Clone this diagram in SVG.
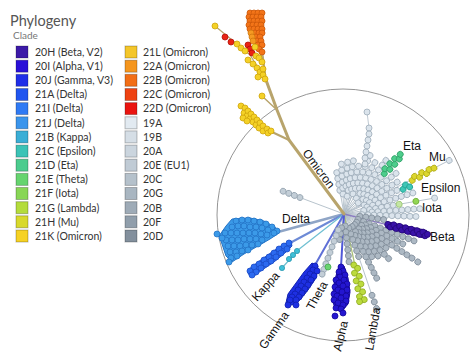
<svg xmlns="http://www.w3.org/2000/svg" width="474" height="361" viewBox="0 0 474 361">
<style>
.ttl{font-family:Lato,"Open Sans",sans-serif;font-size:14.5px;fill:#555}
.sub{font-family:Lato,"Open Sans",sans-serif;font-size:10px;fill:#777}
.lg{font-family:Lato,"Open Sans",sans-serif;font-size:10.5px;fill:#333}
.sw{stroke:#000;stroke-opacity:.25;stroke-width:1}
.lab{font-family:"Liberation Sans",Arial,sans-serif;font-size:12px;fill:#111}
circle{stroke-width:.8}
.gl{stroke:#aebbc6;stroke-width:.8;fill:none}
.lt{fill:#dbe4ec;stroke:#9dacb9}
.md{fill:#adb9c4;stroke:#7f8c99}
.th{fill:#c3ced7;stroke:#93a1ae}
.om{fill:#f4d126;stroke:#cfa50c}
.or{fill:#f37418;stroke:#cc580a}
.oa{fill:#f59a22;stroke:#d07810}
.rd{fill:#ea2312;stroke:#b4120a}
.dj{fill:#3b9ae8;stroke:#2474c6}
.di{fill:#2c6af0;stroke:#1c4cc8}
.kp{fill:#3fc0d8;stroke:#2a98b0}
.ga{fill:#1e30e2;stroke:#1020b0}
.al{fill:#2416d0;stroke:#14089c}
.be{fill:#3a12a8;stroke:#26087c}
.la{fill:#bcdb3e;stroke:#90ac20}
.et{fill:#4ecd8c;stroke:#2ea066}
.mu{fill:#dcd62e;stroke:#aeaa16}
.ep{fill:#3ec6b6;stroke:#22a090}
.io{fill:#92d654;stroke:#6aac30}
.iol{fill:#c4e6a4;stroke:#98c470}
.thg{fill:#6ad470;stroke:#44a84c}
</style>
<rect width="474" height="361" fill="#fff"/>

<g id="legend">
<text class="ttl" x="10" y="26">Phylogeny</text>
<text class="sub" x="13" y="39">Clade</text>
<g id="legend-col1">
<rect class="sw" x="16" y="46" width="12" height="12" fill="#3c1aa8"/><text class="lg" x="35" y="55.8">20H (Beta, V2)</text>
<rect class="sw" x="16" y="60.2" width="12" height="12" fill="#2a10d8"/><text class="lg" x="35" y="70">20I (Alpha, V1)</text>
<rect class="sw" x="16" y="74.3" width="12" height="12" fill="#1f2ee8"/><text class="lg" x="35" y="84.1">20J (Gamma, V3)</text>
<rect class="sw" x="16" y="88.5" width="12" height="12" fill="#2055ef"/><text class="lg" x="35" y="98.3">21A (Delta)</text>
<rect class="sw" x="16" y="102.6" width="12" height="12" fill="#2f7af4"/><text class="lg" x="35" y="112.4">21I (Delta)</text>
<rect class="sw" x="16" y="116.8" width="12" height="12" fill="#3b95ec"/><text class="lg" x="35" y="126.6">21J (Delta)</text>
<rect class="sw" x="16" y="130.9" width="12" height="12" fill="#3aaed6"/><text class="lg" x="35" y="140.7">21B (Kappa)</text>
<rect class="sw" x="16" y="145.1" width="12" height="12" fill="#3cc3b6"/><text class="lg" x="35" y="154.9">21C (Epsilon)</text>
<rect class="sw" x="16" y="159.2" width="12" height="12" fill="#4ccc8e"/><text class="lg" x="35" y="169">21D (Eta)</text>
<rect class="sw" x="16" y="173.4" width="12" height="12" fill="#66d46f"/><text class="lg" x="35" y="183.2">21E (Theta)</text>
<rect class="sw" x="16" y="187.5" width="12" height="12" fill="#88d656"/><text class="lg" x="35" y="197.3">21F (Iota)</text>
<rect class="sw" x="16" y="201.7" width="12" height="12" fill="#b4dc3c"/><text class="lg" x="35" y="211.5">21G (Lambda)</text>
<rect class="sw" x="16" y="215.8" width="12" height="12" fill="#d8d92c"/><text class="lg" x="35" y="225.6">21H (Mu)</text>
<rect class="sw" x="16" y="230" width="12" height="12" fill="#f6d224"/><text class="lg" x="35" y="239.8">21K (Omicron)</text>
</g>
<g id="legend-col2">
<rect class="sw" x="125" y="46" width="12" height="12" fill="#f4c62a"/><text class="lg" x="143" y="55.8">21L (Omicron)</text>
<rect class="sw" x="125" y="60.2" width="12" height="12" fill="#f5961e"/><text class="lg" x="143" y="70">22A (Omicron)</text>
<rect class="sw" x="125" y="74.3" width="12" height="12" fill="#f26e16"/><text class="lg" x="143" y="84.1">22B (Omicron)</text>
<rect class="sw" x="125" y="88.5" width="12" height="12" fill="#ee4212"/><text class="lg" x="143" y="98.3">22C (Omicron)</text>
<rect class="sw" x="125" y="102.6" width="12" height="12" fill="#ea1410"/><text class="lg" x="143" y="112.4">22D (Omicron)</text>
<rect class="sw" x="125" y="116.8" width="12" height="12" fill="#e2eaf1"/><text class="lg" x="143" y="126.6">19A</text>
<rect class="sw" x="125" y="130.9" width="12" height="12" fill="#d5dee6"/><text class="lg" x="143" y="140.7">19B</text>
<rect class="sw" x="125" y="145.1" width="12" height="12" fill="#cbd5de"/><text class="lg" x="143" y="154.9">20A</text>
<rect class="sw" x="125" y="159.2" width="12" height="12" fill="#c0cbd5"/><text class="lg" x="143" y="169">20E (EU1)</text>
<rect class="sw" x="125" y="173.4" width="12" height="12" fill="#b5c1cb"/><text class="lg" x="143" y="183.2">20C</text>
<rect class="sw" x="125" y="187.5" width="12" height="12" fill="#a9b6c1"/><text class="lg" x="143" y="197.3">20G</text>
<rect class="sw" x="125" y="201.7" width="12" height="12" fill="#9eabb7"/><text class="lg" x="143" y="211.5">20B</text>
<rect class="sw" x="125" y="215.8" width="12" height="12" fill="#909eab"/><text class="lg" x="143" y="225.6">20F</text>
<rect class="sw" x="125" y="230" width="12" height="12" fill="#83909d"/><text class="lg" x="143" y="239.8">20D</text>
</g>
</g>

<circle id="ring" cx="343" cy="215" r="126" fill="none" stroke="#7a7a7a" stroke-width=".9"/>

<g id="connectors">
<g transform="translate(344,214)" class="gl">
<line x2="42" transform="rotate(-100)"/><line x2="50" transform="rotate(-93)"/><line x2="52" transform="rotate(-86)"/>
<line x2="54" transform="rotate(-80)"/><line x2="50" transform="rotate(-73)"/><line x2="64" transform="rotate(-66)"/>
<line x2="60" transform="rotate(-59)"/><line x2="68" transform="rotate(-52)"/><line x2="52" transform="rotate(-45)"/>
<line x2="66" transform="rotate(-38)"/><line x2="62" transform="rotate(-31)"/><line x2="72" transform="rotate(-24)"/>
<line x2="72" transform="rotate(-17)"/><line x2="92" transform="rotate(-10)"/><line x2="76" transform="rotate(-4)"/>
<line x2="72" transform="rotate(2)"/><line x2="40" transform="rotate(8)"/><line x2="75" transform="rotate(21)"/>
<line x2="66" transform="rotate(27)"/><line x2="88" transform="rotate(33)"/><line x2="54" transform="rotate(39)"/>
<line x2="63" transform="rotate(45)"/><line x2="54" transform="rotate(51)"/><line x2="51" transform="rotate(57)"/>
<line x2="72" transform="rotate(63)"/><line x2="100" transform="rotate(71)"/><line x2="48" transform="rotate(84)"/>
<line x2="26" transform="rotate(100)"/><line x2="64" transform="rotate(110)"/><line x2="65" transform="rotate(200.5)"/>
<line x2="118" transform="rotate(-27)"/><line x2="57" transform="rotate(-46)"/>
<line x2="44" transform="rotate(14)" stroke="#8a7cc0" stroke-width="1.5"/>
<line x2="52" transform="rotate(78)" stroke="#a9c07a" stroke-width="1.3"/>
</g>
<polyline class="gl" points="344,214 365,164 369,128 367,112"/>
<g fill="none" stroke-linecap="round">
<line x1="344" y1="214" x2="278" y2="232" stroke="#8fa5c6" stroke-width="2.6"/>
<line x1="344" y1="214" x2="290" y2="243" stroke="#6d8ad6" stroke-width="2"/>
<polyline points="344,214 298,250 282,268" stroke="#6fc0d2" stroke-width="1.2"/>
<line x1="344" y1="214" x2="315" y2="265" stroke="#5f70d6" stroke-width="2"/>
<line x1="344" y1="214" x2="341" y2="267" stroke="#5058d8" stroke-width="2"/>
</g>
<g id="omicron-branches" fill="none" stroke="#b8a46c" stroke-linecap="round">
<polyline points="344,214 289,140 277,110 266,80" stroke-width="3"/>
<line x1="289" y1="140" x2="272" y2="132" stroke-width="2.2"/>
<line x1="277" y1="110" x2="262" y2="96" stroke-width="1.5"/>
<polyline points="266,80 250,55 215,26" stroke-width="1.2"/>
<line x1="266" y1="80" x2="256" y2="22" stroke-width="1.5"/>
<line x1="266" y1="80" x2="262" y2="48" stroke-width="1.5"/>
</g>
</g>

<g id="nodes">
<g id="upper-fan" class="lt" transform="translate(344,214)">
<g transform="rotate(-100)"><circle cx="24" r="3"/><circle cx="30" r="3"/><circle cx="36" r="3"/><circle cx="42" r="3"/></g>
<g transform="rotate(-93)"><circle cx="20" r="3"/><circle cx="26" r="3"/><circle cx="32" r="3"/><circle cx="38" r="3"/><circle cx="44" r="3"/><circle cx="50" r="3"/></g>
<g transform="rotate(-86)"><circle cx="28" r="3"/><circle cx="34" r="3"/><circle cx="40" r="3"/><circle cx="46" r="3"/><circle cx="52" r="3"/></g>
<g transform="rotate(-80)"><circle cx="18" r="3"/><circle cx="24" r="3"/><circle cx="30" r="3"/><circle cx="36" r="3"/><circle cx="42" r="3"/><circle cx="48" r="3"/><circle cx="54" r="3"/></g>
<g transform="rotate(-73)"><circle cx="26" r="3"/><circle cx="32" r="3"/><circle cx="38" r="3"/><circle cx="44" r="3"/><circle cx="50" r="3"/></g>
<g transform="rotate(-66)"><circle cx="22" r="3"/><circle cx="28" r="3"/><circle cx="34" r="3"/><circle cx="40" r="3"/><circle cx="46" r="3"/><circle cx="52" r="3"/><circle cx="58" r="3"/><circle cx="64" r="3"/></g>
<g transform="rotate(-59)"><circle cx="30" r="3"/><circle cx="36" r="3"/><circle cx="42" r="3"/><circle cx="48" r="3"/><circle cx="54" r="3"/><circle cx="60" r="3"/></g>
<g transform="rotate(-52)"><circle cx="20" r="3"/><circle cx="26" r="3"/><circle cx="32" r="3"/><circle cx="38" r="3"/><circle cx="44" r="3"/><circle cx="50" r="3"/><circle cx="56" r="3"/><circle cx="62" r="3"/><circle cx="68" r="3"/></g>
<g transform="rotate(-45)"><circle cx="28" r="3"/><circle cx="34" r="3"/><circle cx="40" r="3"/><circle cx="46" r="3"/><circle cx="52" r="3"/></g>
<g transform="rotate(-38)"><circle cx="18" r="3"/><circle cx="24" r="3"/><circle cx="30" r="3"/><circle cx="36" r="3"/><circle cx="42" r="3"/><circle cx="48" r="3"/><circle cx="54" r="3"/><circle cx="60" r="3"/><circle cx="66" r="3"/></g>
<g transform="rotate(-31)"><circle cx="26" r="3"/><circle cx="32" r="3"/><circle cx="38" r="3"/><circle cx="44" r="3"/><circle cx="50" r="3"/><circle cx="56" r="3"/><circle cx="62" r="3"/></g>
<g transform="rotate(-24)"><circle cx="22" r="3"/><circle cx="28" r="3"/><circle cx="34" r="3"/><circle cx="40" r="3"/><circle cx="46" r="3"/><circle cx="52" r="3"/><circle cx="58" r="3"/></g>
<g transform="rotate(-17)"><circle cx="24" r="3"/><circle cx="30" r="3"/><circle cx="36" r="3"/><circle cx="42" r="3"/><circle cx="48" r="3"/><circle cx="54" r="3"/><circle cx="60" r="3"/><circle cx="66" r="3"/><circle cx="72" r="3"/></g>
<g transform="rotate(-10)"><circle cx="20" r="3"/><circle cx="26" r="3"/><circle cx="32" r="3"/><circle cx="38" r="3"/><circle cx="44" r="3"/><circle cx="50" r="3"/><circle cx="92" r="3"/></g>
<g transform="rotate(-4)"><circle cx="28" r="3"/><circle cx="34" r="3"/><circle cx="40" r="3"/><circle cx="46" r="3"/><circle cx="52" r="3"/><circle cx="58" r="3"/><circle cx="64" r="3"/><circle cx="70" r="3"/><circle cx="76" r="3"/></g>
<g transform="rotate(2)"><circle cx="18" r="3"/><circle cx="24" r="3"/><circle cx="30" r="3"/><circle cx="36" r="3"/><circle cx="42" r="3"/><circle cx="48" r="3"/><circle cx="54" r="3"/><circle cx="60" r="3"/><circle cx="66" r="3"/><circle cx="72" r="3"/></g>
<g transform="rotate(-27)"><circle cx="118" r="3"/></g>
</g>
<g id="upper-chain" class="lt"><circle cx="367" cy="112" r="3"/><circle cx="369" cy="128" r="3"/><circle cx="369" cy="134" r="3"/><circle cx="368" cy="140" r="3"/><circle cx="367" cy="146" r="3"/><circle cx="366" cy="152" r="3"/><circle cx="365" cy="158" r="3"/><circle cx="365" cy="164" r="3"/></g>

<g id="lower-fan" class="md" transform="translate(344,214)">
<g transform="rotate(8)"><circle cx="16" r="3"/><circle cx="22" r="3"/><circle cx="28" r="3"/><circle cx="34" r="3"/><circle cx="40" r="3"/></g>
<g transform="rotate(21)"><circle cx="15" r="3"/><circle cx="21" r="3"/><circle cx="27" r="3"/><circle cx="33" r="3"/><circle cx="39" r="3"/><circle cx="45" r="3"/><circle cx="51" r="3"/><circle cx="57" r="3"/><circle cx="63" r="3"/><circle cx="69" r="3"/><circle cx="75" r="3"/></g>
<g transform="rotate(27)"><circle cx="24" r="3"/><circle cx="30" r="3"/><circle cx="36" r="3"/><circle cx="42" r="3"/><circle cx="48" r="3"/><circle cx="54" r="3"/><circle cx="60" r="3"/><circle cx="66" r="3"/></g>
<g transform="rotate(33)"><circle cx="15" r="3"/><circle cx="21" r="3"/><circle cx="27" r="3"/><circle cx="33" r="3"/><circle cx="39" r="3"/><circle cx="45" r="3"/><circle cx="51" r="3"/><circle cx="57" r="3"/><circle cx="63" r="3"/><circle cx="69" r="3"/><circle cx="75" r="3"/><circle cx="81" r="3"/><circle cx="88" r="3"/></g>
<g transform="rotate(39)"><circle cx="24" r="3"/><circle cx="30" r="3"/><circle cx="36" r="3"/><circle cx="42" r="3"/><circle cx="48" r="3"/><circle cx="54" r="3"/></g>
<g transform="rotate(45)"><circle cx="15" r="3"/><circle cx="21" r="3"/><circle cx="27" r="3"/><circle cx="33" r="3"/><circle cx="39" r="3"/><circle cx="45" r="3"/><circle cx="51" r="3"/><circle cx="57" r="3"/><circle cx="63" r="3"/></g>
<g transform="rotate(51)"><circle cx="24" r="3"/><circle cx="30" r="3"/><circle cx="36" r="3"/><circle cx="42" r="3"/><circle cx="48" r="3"/><circle cx="54" r="3"/></g>
<g transform="rotate(57)"><circle cx="15" r="3"/><circle cx="21" r="3"/><circle cx="27" r="3"/><circle cx="33" r="3"/><circle cx="39" r="3"/><circle cx="45" r="3"/><circle cx="51" r="3"/></g>
<g transform="rotate(63)"><circle cx="24" r="3"/><circle cx="30" r="3"/><circle cx="36" r="3"/><circle cx="42" r="3"/><circle cx="48" r="3"/><circle cx="54" r="3"/><circle cx="60" r="3"/><circle cx="66" r="3"/><circle cx="72" r="3"/></g>
<g transform="rotate(71)"><circle cx="15" r="3"/><circle cx="21" r="3"/><circle cx="27" r="3"/><circle cx="33" r="3"/><circle cx="39" r="3"/><circle cx="45" r="3"/><circle cx="86" r="3"/><circle cx="93" r="3"/><circle cx="100" r="3"/></g>
<g transform="rotate(84)"><circle cx="12" r="3"/><circle cx="18" r="3"/><circle cx="24" r="3"/><circle cx="30" r="3"/><circle cx="36" r="3"/><circle cx="42" r="3"/><circle cx="48" r="3"/></g>
<g transform="rotate(100)"><circle cx="14" r="3"/><circle cx="20" r="3"/><circle cx="26" r="3"/></g>
</g>

<g id="clade-theta" transform="translate(344,214)">
<g class="th" transform="rotate(110)"><circle cx="17" r="3"/><circle cx="23" r="3"/><circle cx="29" r="3"/><circle cx="35" r="3"/><circle cx="41" r="3"/><circle cx="47" r="3"/><circle cx="53" r="3"/><circle cx="59" r="3"/><circle cx="64" r="3"/></g>
<g class="th" transform="rotate(200.5)"><circle cx="47" r="3"/><circle cx="53" r="3"/><circle cx="59" r="3"/><circle cx="65" r="3"/></g>
</g>
<circle class="thg" cx="328" cy="267" r="3"/>

<g id="clade-beta" class="be" transform="translate(344,214) rotate(14)">
<path d="M44,-3 L84,-4 Q89,0 84,4 L44,3 Z"/>
<circle cx="45" cy="-0.5" r="3"/><circle cx="48" cy="1.5" r="3"/><circle cx="51" cy="-1.5" r="3"/><circle cx="54" cy="1.5" r="3"/><circle cx="57" cy="-1.5" r="3"/><circle cx="60" cy="1.5" r="3"/><circle cx="63" cy="-1.5" r="3"/><circle cx="66" cy="1.5" r="3"/><circle cx="69" cy="-1.5" r="3"/><circle cx="72" cy="1.5" r="3"/><circle cx="75" cy="-1.5" r="3"/><circle cx="78" cy="1.5" r="3"/><circle cx="81" cy="-1.5" r="3"/><circle cx="84" cy="1.5" r="3"/><circle cx="86" cy="-0.5" r="3"/>
</g>

<g id="clade-lambda" class="la" transform="translate(344,214) rotate(78)">
<circle cx="52" cy="1" r="3"/><circle cx="56" cy="-2" r="3"/><circle cx="60" cy="2" r="3"/><circle cx="64" cy="-2" r="3"/><circle cx="68" cy="2" r="3"/><circle cx="72" cy="-2" r="3"/><circle cx="76" cy="2" r="3"/><circle cx="80" cy="-2" r="3"/><circle cx="84" cy="2" r="3"/><circle cx="88" cy="-2" r="3"/><circle cx="89" cy="3" r="3"/>
</g>

<g id="clade-mu" class="mu" transform="translate(344,214) rotate(-27)">
<circle cx="76" cy="1" r="3"/><circle cx="80" cy="-1.5" r="3"/><circle cx="84" cy="1.5" r="3"/><circle cx="88" cy="-1.5" r="3"/><circle cx="92" cy="1.5" r="3"/><circle cx="96" cy="-1" r="3"/><circle cx="101" cy="0" r="3"/>
</g>
<g id="clade-epsilon" class="ep" transform="translate(344,214) rotate(-24)">
<circle cx="64" cy="1.5" r="3"/><circle cx="68" cy="-1.5" r="3"/><circle cx="71" cy="2" r="3"/>
</g>
<g id="clade-eta" class="et" transform="translate(344,214) rotate(-46)">
<circle cx="57" cy="1" r="3"/><circle cx="61" cy="-2" r="3"/><circle cx="64" cy="2" r="3"/><circle cx="68" cy="-2" r="3"/><circle cx="71" cy="2" r="3"/><circle cx="75" cy="-2" r="3"/><circle cx="78" cy="1.5" r="3"/><circle cx="82" cy="-1" r="3"/>
</g>
<g id="clade-iota" transform="translate(344,214) rotate(-10)">
<circle class="iol" cx="56" cy="0" r="3"/><circle class="io" cx="73" cy="0" r="3"/>
</g>

<g id="clade-delta" class="dj">
<polygon points="232,219 250,218 264,221 275,227 279,233 270,239 258,246 244,254 232,262 226,256 222,244 219,236 226,226"/>
<circle cx="236" cy="221" r="3"/><circle cx="242" cy="220" r="3"/><circle cx="248" cy="220" r="3"/><circle cx="254" cy="221" r="3"/><circle cx="260" cy="222" r="3"/><circle cx="266" cy="224" r="3"/><circle cx="272" cy="227" r="3"/><circle cx="277" cy="231" r="3"/>
<circle cx="232" cy="227" r="3"/><circle cx="238" cy="226" r="3"/><circle cx="244" cy="226" r="3"/><circle cx="250" cy="227" r="3"/><circle cx="256" cy="227" r="3"/><circle cx="262" cy="228" r="3"/><circle cx="268" cy="230" r="3"/><circle cx="274" cy="233" r="3"/>
<circle cx="225" cy="233" r="3"/><circle cx="231" cy="233" r="3"/><circle cx="237" cy="233" r="3"/><circle cx="243" cy="233" r="3"/><circle cx="249" cy="233" r="3"/><circle cx="255" cy="233" r="3"/><circle cx="261" cy="234" r="3"/><circle cx="267" cy="235" r="3"/>
<circle cx="226" cy="240" r="3"/><circle cx="232" cy="240" r="3"/><circle cx="238" cy="240" r="3"/><circle cx="244" cy="239" r="3"/><circle cx="250" cy="239" r="3"/><circle cx="256" cy="239" r="3"/><circle cx="262" cy="240" r="3"/>
<circle cx="228" cy="246" r="3"/><circle cx="234" cy="246" r="3"/><circle cx="240" cy="246" r="3"/><circle cx="246" cy="245" r="3"/><circle cx="252" cy="245" r="3"/><circle cx="258" cy="244" r="3"/>
<circle cx="230" cy="252" r="3"/><circle cx="236" cy="252" r="3"/><circle cx="242" cy="251" r="3"/><circle cx="248" cy="250" r="3"/>
<circle cx="231" cy="258" r="3"/><circle cx="237" cy="256" r="3"/><circle cx="229" cy="262" r="3"/>
<circle cx="217" cy="234" r="3"/><circle cx="222" cy="238" r="3"/>
</g>
<g id="clade-21I" class="di">
<polygon points="248,270 258,262 272,252 284,244 291,242 292,246 286,252 274,262 262,270 254,276 249,275"/>
<circle cx="289" cy="243" r="3"/><circle cx="284" cy="246" r="3"/><circle cx="287" cy="249" r="3"/><circle cx="279" cy="249" r="3"/><circle cx="281" cy="253" r="3"/><circle cx="274" cy="253" r="3"/><circle cx="276" cy="257" r="3"/><circle cx="269" cy="257" r="3"/><circle cx="271" cy="261" r="3"/><circle cx="264" cy="260" r="3"/><circle cx="266" cy="264" r="3"/><circle cx="259" cy="264" r="3"/><circle cx="261" cy="268" r="3"/><circle cx="254" cy="267" r="3"/><circle cx="256" cy="272" r="3"/><circle cx="250" cy="271" r="3"/><circle cx="252" cy="275" r="3"/>
</g>
<g id="clade-kappa" class="kp">
<circle cx="297" cy="251" r="2.6"/><circle cx="293" cy="255" r="2.6"/><circle cx="289" cy="259" r="2.6"/><circle cx="282" cy="268" r="2.6"/>
</g>
<g id="clade-gamma" class="ga">
<polygon points="312,263 318,266 316,278 308,290 300,300 292,305 286,303 288,294 296,283 304,272"/>
<circle cx="315" cy="266" r="3"/><circle cx="313" cy="270" r="3"/><circle cx="317" cy="271" r="3"/><circle cx="310" cy="274" r="3"/><circle cx="314" cy="276" r="3"/><circle cx="307" cy="278" r="3"/><circle cx="311" cy="280" r="3"/><circle cx="304" cy="282" r="3"/><circle cx="308" cy="285" r="3"/><circle cx="301" cy="286" r="3"/><circle cx="305" cy="289" r="3"/><circle cx="298" cy="290" r="3"/><circle cx="302" cy="293" r="3"/><circle cx="295" cy="294" r="3"/><circle cx="299" cy="297" r="3"/><circle cx="292" cy="297" r="3"/><circle cx="296" cy="300" r="3"/><circle cx="290" cy="300" r="3"/><circle cx="288" cy="305" r="3"/><circle cx="296" cy="305" r="3"/>
</g>
<g id="clade-alpha" class="al">
<polygon points="339,266 344,266 348,278 350,292 348,304 343,310 336,310 332,300 334,284 337,272"/>
<circle cx="341" cy="267" r="3"/><circle cx="343" cy="271" r="3"/><circle cx="339" cy="272" r="3"/><circle cx="345" cy="275" r="3"/><circle cx="340" cy="277" r="3"/><circle cx="336" cy="280" r="3"/><circle cx="344" cy="280" r="3"/><circle cx="347" cy="284" r="3"/><circle cx="339" cy="283" r="3"/><circle cx="335" cy="287" r="3"/><circle cx="343" cy="286" r="3"/><circle cx="347" cy="290" r="3"/><circle cx="338" cy="290" r="3"/><circle cx="334" cy="294" r="3"/><circle cx="342" cy="292" r="3"/><circle cx="346" cy="296" r="3"/><circle cx="337" cy="296" r="3"/><circle cx="334" cy="300" r="3"/><circle cx="341" cy="298" r="3"/><circle cx="346" cy="301" r="3"/><circle cx="338" cy="303" r="3"/><circle cx="343" cy="305" r="3"/><circle cx="336" cy="308" r="3"/><circle cx="341" cy="309" r="3"/><circle cx="335" cy="316" r="3"/><circle cx="343" cy="313" r="3"/>
</g>

<g id="clade-omicron">
<g class="om">
<circle cx="241" cy="106" r="3"/><circle cx="245" cy="108" r="3"/><circle cx="244" cy="113" r="3"/><circle cx="248" cy="111" r="3"/><circle cx="247" cy="116" r="3"/><circle cx="251" cy="114" r="3"/><circle cx="250" cy="119" r="3"/><circle cx="254" cy="117" r="3"/><circle cx="253" cy="122" r="3"/><circle cx="257" cy="120" r="3"/><circle cx="256" cy="125" r="3"/><circle cx="260" cy="123" r="3"/><circle cx="259" cy="128" r="3"/><circle cx="263" cy="126" r="3"/><circle cx="263" cy="131" r="3"/><circle cx="267" cy="129" r="3"/><circle cx="268" cy="133" r="3"/><circle cx="271" cy="131" r="3"/><circle cx="243" cy="118" r="3"/><circle cx="247" cy="121" r="3"/>
<circle cx="262" cy="96" r="3"/>
<circle cx="215" cy="26" r="3"/>
</g>
<g class="or">
<circle cx="250" cy="13" r="3"/><circle cx="254" cy="13" r="3"/><circle cx="258" cy="13" r="3"/><circle cx="262" cy="13" r="3"/>
<circle cx="249" cy="17" r="3"/><circle cx="253" cy="17" r="3"/><circle cx="257" cy="17" r="3"/><circle cx="261" cy="17" r="3"/>
<circle cx="250" cy="21" r="3"/><circle cx="254" cy="21" r="3"/><circle cx="258" cy="21" r="3"/><circle cx="262" cy="21" r="3"/>
<circle cx="249" cy="25" r="3"/><circle cx="253" cy="25" r="3"/><circle cx="257" cy="25" r="3"/><circle cx="261" cy="25" r="3"/>
<circle cx="250" cy="29" r="3"/><circle cx="254" cy="29" r="3"/><circle cx="258" cy="29" r="3"/><circle cx="262" cy="29" r="3"/>
<circle cx="255" cy="33" r="3"/><circle cx="259" cy="33" r="3"/><circle cx="262" cy="33" r="3"/>
<circle cx="256" cy="37" r="3"/><circle cx="260" cy="37" r="3"/>
<circle cx="257" cy="41" r="3"/><circle cx="261" cy="41" r="3"/>
<circle cx="258" cy="45" r="3"/><circle cx="262" cy="45" r="3"/>
<circle cx="259" cy="49" r="3"/><circle cx="262" cy="52" r="3"/>
</g>
<g class="oa"><circle cx="251" cy="33" r="3"/><circle cx="252" cy="37" r="3"/><circle cx="253" cy="41" r="3"/></g>
<g class="rd"><circle cx="225" cy="37" r="3"/><circle cx="231" cy="42" r="3"/><circle cx="248" cy="45" r="3"/><circle cx="250" cy="49" r="3"/><circle cx="252" cy="53" r="3"/></g>
<g class="om">
<circle cx="237" cy="44" r="3"/><circle cx="241" cy="48" r="3"/><circle cx="245" cy="51" r="3"/><circle cx="255" cy="47" r="3"/><circle cx="256" cy="56" r="3"/><circle cx="259" cy="58" r="3"/><circle cx="262" cy="62" r="3"/><circle cx="248" cy="60" r="3"/><circle cx="253" cy="64" r="3"/><circle cx="257" cy="68" r="3"/><circle cx="260" cy="72" r="3"/><circle cx="263" cy="69" r="3"/><circle cx="263" cy="75" r="3"/><circle cx="265" cy="79" r="3"/><circle cx="258" cy="77" r="3"/>
</g>
</g>
</g>

<g id="labels">
<text class="lab" transform="translate(302,153) rotate(53.5)">Omicron</text>
<text class="lab" x="282" y="223">Delta</text>
<text class="lab" x="403" y="150">Eta</text>
<text class="lab" x="429" y="161">Mu</text>
<text class="lab" x="421" y="192">Epsilon</text>
<text class="lab" x="422" y="212">Iota</text>
<text class="lab" x="430" y="241">Beta</text>
<text class="lab" transform="translate(257,302) rotate(-48)">Kappa</text>
<text class="lab" transform="translate(265,350) rotate(-55)">Gamma</text>
<text class="lab" transform="translate(313,311) rotate(-61)">Theta</text>
<text class="lab" transform="translate(341,352) rotate(-77)">Alpha</text>
<text class="lab" transform="translate(373,351) rotate(-80)">Lambda</text>
</g>
</svg>
